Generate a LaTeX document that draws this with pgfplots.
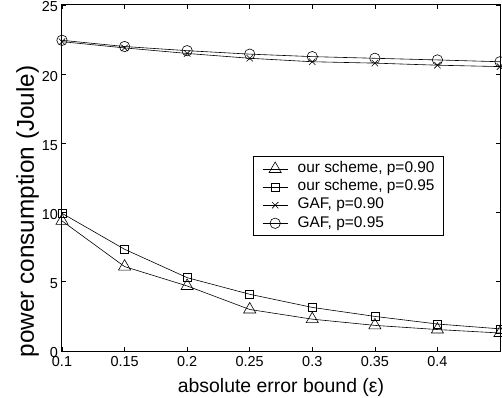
\documentclass[border=0pt]{standalone}
\usepackage{fontspec}
\setmainfont{Liberation Sans}
\usepackage{pgfplots}
\pgfplotsset{compat=1.18}
\begin{document}
\begin{tikzpicture}
\useasboundingbox (-62bp,-47bp) rectangle (440bp,351bp);
\begin{axis}[
  at={(0,0)}, anchor=south west,
  scale only axis, width=438bp, height=346bp,
  xmin=0.1, xmax=0.45, ymin=0, ymax=25,
  xtick={0.1,0.15,0.2,0.25,0.3,0.35,0.4},
  xticklabels={0.1,0.15,0.2,0.25,0.3,0.35,0.4},
  ytick={0,5,10,15,20,25},
  tick align=inside, tick pos=both, major tick length=4bp,
  /pgf/number format/assume math mode=true,
  ticklabel style={font=\fontsize{14.5}{17}\selectfont},
  xticklabel style={yshift=-1.5bp},
  yticklabel style={yshift=-2bp, xshift=-0.5bp},
  axis line style={line width=1bp},
  every tick/.style={black, line width=0.6bp},
  xlabel={absolute error bound (ε)},
  xlabel style={at={(rel axis cs:0.5,0)}, anchor=base, yshift=-41.5bp, font=\fontsize{19.5}{22}\selectfont},
  ylabel={power consumption (Joule)},
  ylabel style={at={(rel axis cs:0,0.403)}, anchor=base, yshift=28bp, font=\fontsize{24.4}{26}\selectfont},
  legend cell align=left,
  legend style={at={(rel axis cs:0.436,0.332)}, anchor=south west, draw=black, line width=0.8bp, fill=white,
    font=\fontsize{15.5}{18}\selectfont, inner xsep=9bp, inner ysep=5.2bp,
    /tikz/column sep=9.7bp, /tikz/row sep=3.6bp,
    nodes={inner sep=0pt, text height=11bp, text depth=3.5bp}},
  legend image code/.code={\draw[mark repeat=2, mark phase=2, #1] plot coordinates {(0bp,0bp) (12.5bp,0bp) (25bp,0bp)};},
  every axis plot/.append style={black, line width=0.6bp, mark options={solid, line width=0.6bp, fill=none}},
]
\addplot[mark=triangle, mark size=7bp] coordinates {(0.1,9.4)(0.15,6.1)(0.2,4.7)(0.25,3.0)(0.3,2.3)(0.35,1.85)(0.4,1.55)(0.45,1.3)};
\addlegendentry{our scheme, p=0.90}
\addplot[mark=square, mark size=4bp] coordinates {(0.1,9.95)(0.15,7.35)(0.2,5.3)(0.25,4.1)(0.3,3.15)(0.35,2.5)(0.4,1.95)(0.45,1.6)};
\addlegendentry{our scheme, p=0.95}
\addplot[mark=x, mark size=4.5bp] coordinates {(0.1,22.35)(0.15,21.9)(0.2,21.5)(0.25,21.15)(0.3,20.9)(0.35,20.8)(0.4,20.65)(0.45,20.55)};
\addlegendentry{GAF, p=0.90}
\addplot[mark=o, mark size=5.2bp] coordinates {(0.1,22.45)(0.15,22.0)(0.2,21.7)(0.25,21.45)(0.3,21.27)(0.35,21.15)(0.4,21.03)(0.45,20.9)};
\addlegendentry{GAF, p=0.95}
\end{axis}
\end{tikzpicture}
\end{document}
